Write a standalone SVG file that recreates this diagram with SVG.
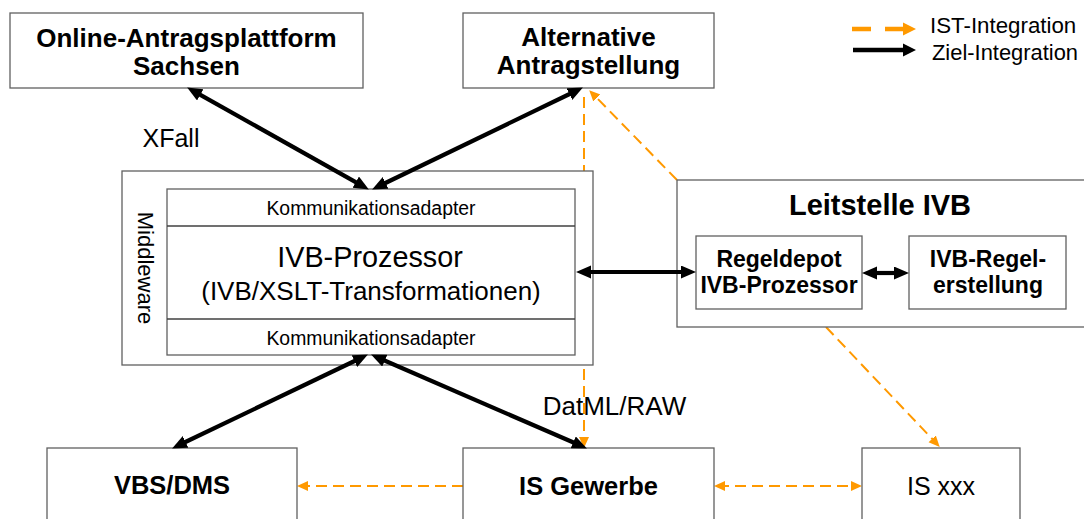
<svg xmlns="http://www.w3.org/2000/svg" width="1084" height="519" viewBox="0 0 1084 519">
  <style>
    .box { fill: #ffffff; stroke: #606060; stroke-width: 1.3; }
    .t { font-family: "Liberation Sans", Arial, sans-serif; fill: #000000; text-anchor: middle; }
    .b { font-weight: bold; }
    .ist { fill: none; stroke: #FF9900; stroke-width: 2; stroke-dasharray: 11 6; }
    .ziel { fill: none; stroke: #000000; stroke-width: 4.2; }
  </style>
  <defs>
    <marker id="headBlack" markerUnits="userSpaceOnUse" markerWidth="16" markerHeight="14" refX="6" refY="6.5" orient="auto-start-reverse">
      <path d="M0,0 L15,6.5 L0,13 z" fill="#000000"/>
    </marker>
    <marker id="headOrange" markerUnits="userSpaceOnUse" markerWidth="12" markerHeight="12" refX="7" refY="5" orient="auto-start-reverse">
      <path d="M0,0 L11,5 L0,10 z" fill="#FF9900"/>
    </marker>
  </defs>

  <!-- IST integration (dashed orange) -->
  <g id="connectors-ist">
    <path class="ist" d="M584,97 L584,444" marker-end="url(#headOrange)"/>
    <path class="ist" d="M677,180 L592,93" marker-end="url(#headOrange)"/>
    <path class="ist" d="M826,327 L937,444" marker-end="url(#headOrange)"/>
    <path class="ist" d="M463,486 L301,486" marker-end="url(#headOrange)"/>
    <path class="ist" d="M718,486 L858,486" marker-start="url(#headOrange)" marker-end="url(#headOrange)"/>
  </g>

  <!-- nodes -->
  <g id="node-online">
    <rect class="box" x="10" y="13" width="353" height="75"/>
    <text class="t b" x="186.5" y="47" font-size="26">Online-Antragsplattform</text>
    <text class="t b" x="186.5" y="75" font-size="26">Sachsen</text>
  </g>
  <g id="node-alternative">
    <rect class="box" x="463" y="13" width="251" height="75"/>
    <text class="t b" x="588.5" y="46" font-size="26">Alternative</text>
    <text class="t b" x="588.5" y="74" font-size="26">Antragstellung</text>
  </g>
  <g id="node-middleware">
    <rect class="box" x="122" y="171" width="471" height="194"/>
    <text class="t" transform="translate(138,268) rotate(90)" x="0" y="0" font-size="22">Middleware</text>
    <rect class="box" x="167" y="189" width="408" height="166"/>
    <line x1="167" y1="226" x2="575" y2="226" stroke="#404040" stroke-width="1.3"/>
    <line x1="167" y1="319" x2="575" y2="319" stroke="#404040" stroke-width="1.3"/>
    <text class="t" x="371" y="215" font-size="19.4">Kommunikationsadapter</text>
    <text class="t" x="370" y="267" font-size="28.8">IVB-Prozessor</text>
    <text class="t" x="371" y="300" font-size="26">(IVB/XSLT-Transformationen)</text>
    <text class="t" x="371" y="345" font-size="19.4">Kommunikationsadapter</text>
  </g>
  <g id="node-leitstelle">
    <rect class="box" x="677" y="180" width="420" height="147"/>
    <text class="t b" x="880" y="215" font-size="29">Leitstelle IVB</text>
  </g>
  <g id="node-regeldepot">
    <rect class="box" x="696" y="236" width="166" height="73"/>
    <text class="t b" x="779" y="267" font-size="23">Regeldepot</text>
    <text class="t b" x="779" y="293" font-size="23">IVB-Prozessor</text>
  </g>
  <g id="node-regelerstellung">
    <rect class="box" x="909" y="236" width="157" height="73"/>
    <text class="t b" x="988" y="267" font-size="23">IVB-Regel-</text>
    <text class="t b" x="988" y="293" font-size="23">erstellung</text>
  </g>
  <g id="node-vbs">
    <rect class="box" x="47" y="448" width="250" height="85"/>
    <text class="t b" x="172" y="494" font-size="25.5">VBS/DMS</text>
  </g>
  <g id="node-isgewerbe">
    <rect class="box" x="463" y="448" width="251" height="85"/>
    <text class="t b" x="588.5" y="495" font-size="25.5">IS Gewerbe</text>
  </g>
  <g id="node-isxxx">
    <rect class="box" x="862" y="448" width="158" height="85"/>
    <text class="t" x="941" y="495" font-size="25">IS xxx</text>
  </g>

  <!-- target integration (solid black) -->
  <g id="connectors-ziel">
    <path class="ziel" d="M195,91.9 L361,185.1" marker-start="url(#headBlack)" marker-end="url(#headBlack)"/>
    <path class="ziel" d="M574.8,91.5 L380.2,185.5" marker-start="url(#headBlack)" marker-end="url(#headBlack)"/>
    <path class="ziel" d="M359.8,358.5 L180.2,444.5" marker-start="url(#headBlack)" marker-end="url(#headBlack)"/>
    <path class="ziel" d="M379.3,358.2 L578.7,444.8" marker-start="url(#headBlack)" marker-end="url(#headBlack)"/>
    <path class="ziel" d="M585,272 L687,272" marker-start="url(#headBlack)" marker-end="url(#headBlack)"/>
    <path class="ziel" d="M871,273 L900,273" marker-start="url(#headBlack)" marker-end="url(#headBlack)"/>
  </g>

  <!-- connector labels -->
  <g id="labels">
    <text class="t" x="171" y="147" font-size="25">XFall</text>
    <text class="t" x="614.5" y="415" font-size="26">DatML/RAW</text>
  </g>

  <!-- legend -->
  <g id="legend">
    <line x1="852" y1="29" x2="904" y2="29" stroke="#FF9900" stroke-width="4.5" stroke-dasharray="19 14"/>
    <path d="M903,22.5 L916,29 L903,35.5 z" fill="#FF9900"/>
    <line x1="853" y1="50" x2="904" y2="50" stroke="#000000" stroke-width="4.5"/>
    <path d="M903,43.5 L916,50 L903,56.5 z" fill="#000000"/>
    <text class="t" x="930" y="33" font-size="22.3" style="text-anchor:start">IST-Integration</text>
    <text class="t" x="932" y="60" font-size="21.9" style="text-anchor:start">Ziel-Integration</text>
  </g>
</svg>
